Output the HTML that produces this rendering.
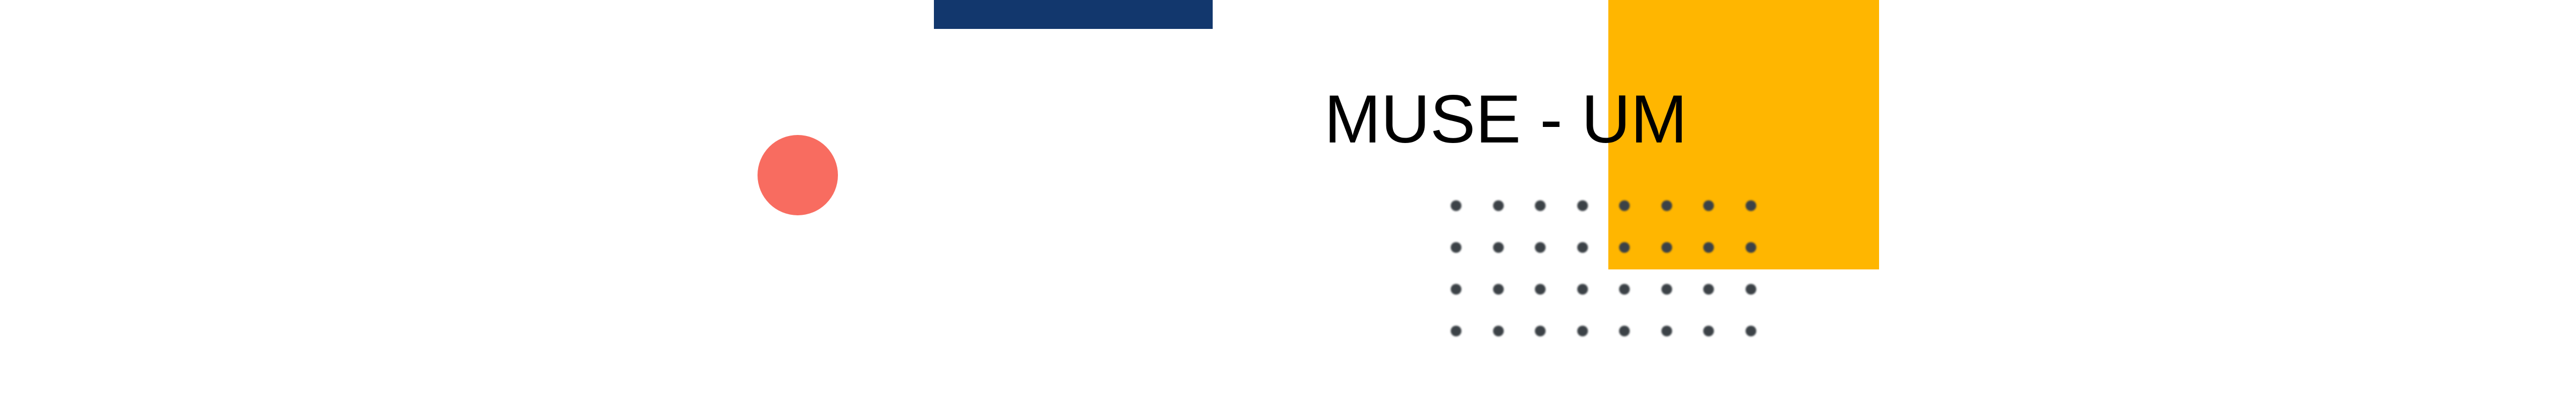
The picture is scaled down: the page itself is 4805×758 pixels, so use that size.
<!DOCTYPE html>
<html><head><meta charset="utf-8"><style>
html,body{margin:0;padding:0;background:#fff}
#c{position:relative;width:4805px;height:758px;overflow:hidden;background:#fff}
.a{position:absolute}
.dot{position:absolute;width:20px;height:20px;border-radius:50%;background:#3c4247;filter:blur(1.5px)}
</style></head><body>
<div id="c">
<div class="a" style="left:1742px;top:0;width:520px;height:54px;background:#12376d"></div>
<div class="a" style="left:3000px;top:0;width:505px;height:503px;background:#ffb600"></div>
<div class="a" style="left:1413px;top:252px;width:150px;height:150px;border-radius:50%;background:#f86c60"></div>
<div class="a" style="left:2470px;top:152px;font-family:'Liberation Sans',sans-serif;font-size:127px;line-height:140px;color:#000;white-space:nowrap;font-weight:normal">MUSE - UM</div>
<div id="dots"></div>
</div>
<script>
const g=document.getElementById('dots');
for(let r=0;r<4;r++)for(let i=0;i<8;i++){
const d=document.createElement('div');d.className='dot';


d.style.left=(2706+78.5*i)+'px';d.style.top=(374+78*r)+'px';g.appendChild(d);}
</script>
</body></html>
